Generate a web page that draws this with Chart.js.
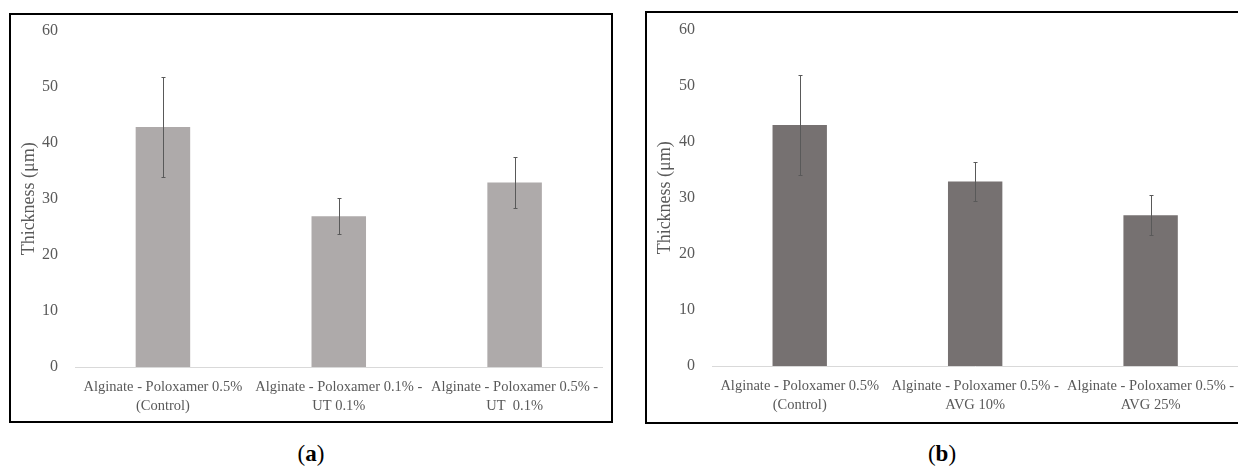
<!DOCTYPE html>
<html>
<head>
<meta charset="utf-8">
<script src="https://cdn.jsdelivr.net/npm/chart.js@4.4.1/dist/chart.umd.min.js"></script>
<style>
  html, body { margin: 0; padding: 0; background: #fff; width: 1238px; height: 468px; overflow: hidden; }
  .box { position: absolute; box-sizing: border-box; border: 2px solid #000; }
  canvas { position: absolute; }
  .cap { position: absolute; font-family: "Liberation Serif", serif; font-size: 23px; color: #000; transform: translateX(-50%); }
  .cap b { font-weight: bold; }
</style>
</head>
<body>
<div class="box" style="left:9px; top:13px; width:604px; height:410px;"></div>
<div class="box" style="left:645px; top:11px; width:700px; height:413px;"></div>
<canvas id="ca" width="598" height="415" style="left:12px; top:4px;"></canvas>
<canvas id="cb" width="598" height="415" style="left:648px; top:3px;"></canvas>
<div class="cap" style="left:311px; top:441px;">(<b>a</b>)</div>
<div class="cap" style="left:942px; top:441px;">(<b>b</b>)</div>
<script>
const categoriesA = [
  ["Alginate - Poloxamer 0.5%", "(Control)"],
  ["Alginate - Poloxamer 0.1% -", "UT 0.1%"],
  ["Alginate - Poloxamer 0.5% -", "UT  0.1%"]
];
const valuesA = [42.8, 26.9, 32.9];
const errorsA = [8.9, 3.2, 4.6];

const categoriesB = [
  ["Alginate - Poloxamer 0.5%", "(Control)"],
  ["Alginate - Poloxamer 0.5% -", "AVG 10%"],
  ["Alginate - Poloxamer 0.5% -", "AVG 25%"]
];
const valuesB = [43.0, 32.9, 26.9];
const errorsB = [8.9, 3.5, 3.6];

const yTicks = [0, 10, 20, 30, 40, 50, 60];
const yTitle = "Thickness (μm)";

const errorBarPlugin = {
  id: 'errorBars',
  afterDatasetsDraw(chart) {
    const ctx = chart.ctx;
    const y = chart.scales.y;
    chart.data.datasets.forEach((ds, di) => {
      const meta = chart.getDatasetMeta(di);
      meta.data.forEach((bar, i) => {
        const v = ds.data[i], e = ds.errors[i];
        const yt = Math.round(y.getPixelForValue(v + e)) + 0.5;
        const yb = Math.round(y.getPixelForValue(v - e)) + 0.5;
        const x = Math.round(bar.x) + 0.5;
        ctx.save();
        ctx.strokeStyle = '#595959';
        ctx.lineWidth = 1;
        ctx.beginPath();
        ctx.moveTo(x, yt); ctx.lineTo(x, yb);
        ctx.moveTo(x - 2, yt); ctx.lineTo(x + 2, yt);
        ctx.moveTo(x - 2, yb); ctx.lineTo(x + 2, yb);
        ctx.stroke();
        ctx.restore();
      });
    });
  }
};

function makeChart(id, cats, vals, errs, color, yWidth) {
  return new Chart(document.getElementById(id), {
    type: 'bar',
    data: {
      labels: cats,
      datasets: [{
        data: vals,
        errors: errs,
        backgroundColor: color,
        borderWidth: 0,
        barPercentage: 0.31,
        categoryPercentage: 1.0
      }]
    },
    options: {
      responsive: false,
      animation: false,
      devicePixelRatio: 1,
      layout: { padding: { top: 4, right: 5, left: 0, bottom: 0 } },
      plugins: { legend: { display: false }, tooltip: { enabled: false } },
      scales: {
        x: {
          grid: { display: false, drawTicks: false },
          border: { display: true, color: '#d9d9d9', width: 1 },
          ticks: {
            color: '#595959',
            padding: 11,
            maxRotation: 0,
            autoSkip: false,
            font: { family: 'Liberation Serif', size: 14.5, lineHeight: 1.31 }
          },
          afterFit(s) { s.height = 52; }
        },
        y: {
          min: 0, max: 60,
          afterBuildTicks(s) { s.ticks = yTicks.map(v => ({ value: v })); },
          grid: { display: false, drawTicks: false },
          border: { display: false },
          ticks: {
            color: '#595959',
            padding: 17,
            font: { family: 'Liberation Serif', size: 16 }
          },
          title: {
            display: true,
            text: yTitle,
            color: '#595959',
            padding: { top: 7, bottom: 0 },
            font: { family: 'Liberation Serif', size: 18, lineHeight: 1.1 }
          },
          afterFit(s) { s.width = yWidth; }
        }
      }
    },
    plugins: [errorBarPlugin]
  });
}

makeChart('ca', categoriesA, valuesA, errorsA, '#AEAAAA', 63);
makeChart('cb', categoriesB, valuesB, errorsB, '#767171', 64);
</script>
</body>
</html>
